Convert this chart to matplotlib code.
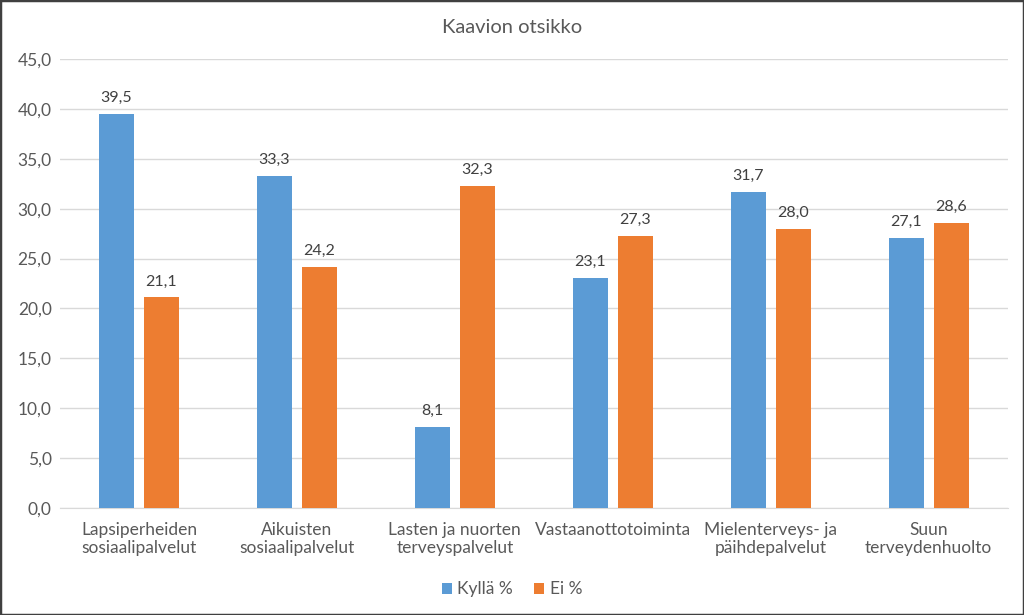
import matplotlib.pyplot as plt
import numpy as np
from matplotlib.patches import Rectangle

categories = ['Lapsiperheiden\nsosiaalipalvelut', 'Aikuisten\nsosiaalipalvelut',
              'Lasten ja nuorten\nterveyspalvelut', 'Vastaanottotoiminta',
              'Mielenterveys- ja\npäihdepalvelut', 'Suun\nterveydenhuolto']
kylla = [39.5, 33.3, 8.1, 23.1, 31.7, 27.1]
ei = [21.1, 24.2, 32.3, 27.3, 28.0, 28.6]
yticks = [0, 5, 10, 15, 20, 25, 30, 35, 40, 45]

plt.rcParams['font.family'] = ['Lato', 'DejaVu Sans']
txt = '#595959'

fig = plt.figure(figsize=(10.24, 6.15), dpi=100)
ax = fig.add_axes([0.0586, 0.174, 0.9254, 0.730])

x = np.arange(len(categories))
w = 0.222
off = 0.142
b1 = ax.bar(x - off, kylla, w, color='#5B9BD5', label='Kyllä %', zorder=3)
b2 = ax.bar(x + off, ei, w, color='#ED7D31', label='Ei %', zorder=3)

for bars, vals in ((b1, kylla), (b2, ei)):
    for b, v in zip(bars, vals):
        ax.text(b.get_x() + b.get_width() / 2, v + 0.9, f'{v:.1f}'.replace('.', ','),
                ha='center', va='bottom', fontsize=11.5, color='#404040')

ax.set_xlim(-0.5, len(categories) - 0.5)
ax.set_ylim(0, 45)
ax.set_yticks(yticks)
ax.set_yticklabels([f'{t:.1f}'.replace('.', ',') for t in yticks])
ax.set_xticks(x)
ax.set_xticklabels(categories, linespacing=1.15)
ax.tick_params(axis='both', length=0, labelsize=12.5, colors=txt)
ax.tick_params(axis='x', pad=10)
ax.tick_params(axis='y', pad=6)
ax.grid(axis='y', color='#D9D9D9', linewidth=1, zorder=0)
for s in ['top', 'right', 'left']:
    ax.spines[s].set_visible(False)
ax.spines['bottom'].set_color('#D9D9D9')

fig.text(0.5, 0.955, 'Kaavion otsikko', ha='center', va='center', fontsize=14.5, color=txt)

leg = fig.legend(loc='center', bbox_to_anchor=(0.5, 0.042), ncol=2, frameon=False,
                 fontsize=12.5, handlelength=0.6, handleheight=0.6, handletextpad=0.3,
                 columnspacing=1.2)
for t in leg.get_texts():
    t.set_color(txt)

fig.patches.append(Rectangle((0, 0), 1, 1, transform=fig.transFigure, fill=False,
                             edgecolor='#404040', linewidth=2.5))

plt.savefig('out.png', dpi=100)
plt.close()
